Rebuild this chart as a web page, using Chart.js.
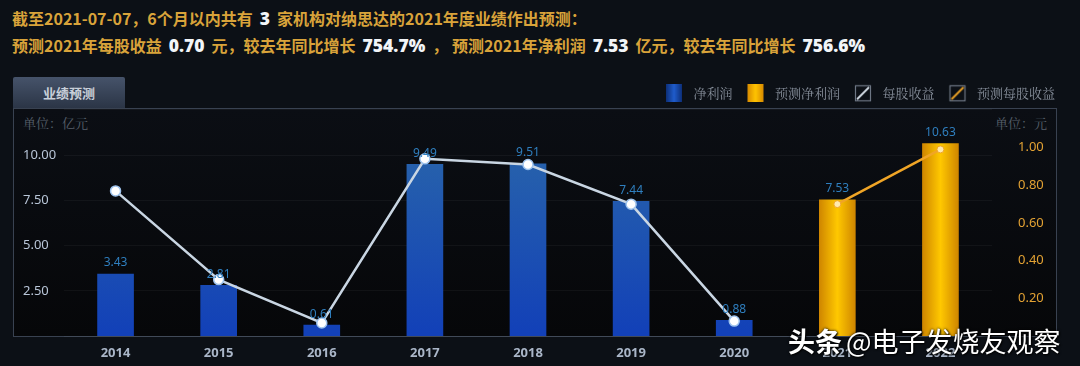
<!DOCTYPE html>
<html>
<head>
<meta charset="utf-8">
<script src="https://cdn.jsdelivr.net/npm/chart.js@4.4.1/dist/chart.umd.min.js"></script>
<style>
  html, body { margin: 0; padding: 0; }
  body { width: 1080px; height: 366px; background: #0c1016; position: relative; overflow: hidden; font-family: "Noto Sans CJK SC", "Noto Sans", sans-serif; }
  #hdr { position: absolute; left: 12px; top: 5px; color: #d9a33a; font-weight: bold; font-size: 16px; line-height: 27px; white-space: nowrap; }
  #hdr b { color: #f2f5f8; font-size: 17.5px; margin: 0 7px; font-family: "Noto Sans", sans-serif; }
  #tab { position: absolute; left: 13px; top: 77px; width: 112px; height: 31px; background: linear-gradient(#46536a, #2b3546); color: #c9d0da; font-size: 13px; font-weight: bold; text-align: center; line-height: 31px; border-radius: 2px 2px 0 0; }
  #frame { position: absolute; left: 13px; top: 108px; width: 1042px; height: 227px; border: 1px solid #394251; background: linear-gradient(#0b0e14, #060709); }
  .unit { position: absolute; top: 113px; color: #58606c; font-size: 13px; font-family: "Noto Serif CJK SC", "Noto Sans CJK SC", serif; }
  #wrap { position: absolute; left: 13px; top: 76px; width: 1063px; height: 294px; }
  #wm { position: absolute; left: 788px; top: 321px; color: #ffffff; font-size: 27px; white-space: nowrap; text-shadow: 0 0 3px #000, 1px 1px 2px #000; }
  #wm b { font-weight: bold; margin-right: 4px; }
</style>
</head>
<body>
<div id="hdr">
  <div>截至2021-07-07，6个月以内共有<b>3</b>家机构对纳思达的2021年度业绩作出预测：</div>
  <div>预测2021年每股收益<b>0.70</b>元，较去年同比增长<b>754.7%</b>， 预测2021年净利润<b>7.53</b>亿元，较去年同比增长<b>756.6%</b></div>
</div>
<div id="tab">业绩预测</div>
<div id="frame"></div>
<div class="unit" style="left:23px">单位：亿元</div>
<div class="unit" style="left:995px">单位：元</div>
<div id="wrap"><canvas id="chart"></canvas></div>
<div id="wm"><b>头条</b>@电子发烧友观察</div>
<script>
const years = ['2014', '2015', '2016', '2017', '2018', '2019', '2020', '2021', '2022'];
const netProfit = [3.43, 2.81, 0.61, 9.49, 9.51, 7.44, 0.88, null, null];
const netProfitForecast = [null, null, null, null, null, null, null, 7.53, 10.63];
const eps = [0.77, 0.30, 0.07, 0.94, 0.91, 0.70, 0.08, null, null];
const epsForecast = [null, null, null, null, null, null, null, 0.70, 0.99];
const leftTicks = [2.5, 5, 7.5, 10];
const rightTicks = [0.2, 0.4, 0.6, 0.8, 1.0];

function makeIcon(kind) {
    const c = document.createElement('canvas');
    c.width = 26; c.height = 18;
    const g = c.getContext('2d');
    if (kind === 'blue' || kind === 'gold') {
        const gr = g.createLinearGradient(5, 0, 21, 0);
        if (kind === 'blue') { gr.addColorStop(0, '#0d2f78'); gr.addColorStop(0.5, '#1f5ccc'); gr.addColorStop(1, '#0d2f78'); }
        else { gr.addColorStop(0, '#d78a00'); gr.addColorStop(0.5, '#ffc400'); gr.addColorStop(1, '#d78a00'); }
        g.fillStyle = gr;
        g.fillRect(5, 0, 16, 18);
    } else {
        g.strokeStyle = '#6d7684'; g.lineWidth = 1.2;
        g.strokeRect(5.5, 1.5, 15, 15);
        g.strokeStyle = kind === 'line' ? '#d8e0ea' : '#f0a526';
        g.lineWidth = 1.8;
        g.beginPath(); g.moveTo(7, 15); g.lineTo(19, 3); g.stroke();
    }
    return c;
}
const icons = [makeIcon('blue'), makeIcon('gold'), makeIcon('line'), makeIcon('goldline')];

function blueFill(ctx) {
    const ca = ctx.chart.chartArea;
    if (!ca) return '#1c50b0';
    const gr = ctx.chart.ctx.createLinearGradient(0, ca.top, 0, ca.bottom);
    gr.addColorStop(0, '#2c6aa8');
    gr.addColorStop(1, '#1240b8');
    return gr;
}
function goldFill(ctx) {
    const ca = ctx.chart.chartArea;
    if (!ca) return '#f0b000';
    const x = ctx.chart.scales.x.getPixelForValue(ctx.dataIndex);
    const gr = ctx.chart.ctx.createLinearGradient(x - 18, 0, x + 18, 0);
    gr.addColorStop(0, '#cf8600');
    gr.addColorStop(0.5, '#ffc800');
    gr.addColorStop(1, '#cf8600');
    return gr;
}

const barLabels = {
    id: 'barLabels',
    afterDatasetsDraw(chart) {
        const ctx = chart.ctx;
        ctx.save();
        ctx.font = '12px "Noto Sans", sans-serif';
        ctx.fillStyle = '#2f7fbf';
        ctx.textAlign = 'center';
        ctx.textBaseline = 'bottom';
        [0, 1].forEach(i => {
            const meta = chart.getDatasetMeta(i);
            meta.data.forEach((el, j) => {
                const v = chart.data.datasets[i].data[j];
                if (v == null) return;
                ctx.fillText(v.toFixed(2), el.x, el.y - 5);
            });
        });
        ctx.restore();
    }
};

new Chart(document.getElementById('chart'), {
    data: {
        labels: years,
        datasets: [
            { type: 'bar', label: '净利润', data: netProfit, yAxisID: 'y', backgroundColor: blueFill, barThickness: 36, grouped: false, order: 2 },
            { type: 'bar', label: '预测净利润', data: netProfitForecast, yAxisID: 'y', backgroundColor: goldFill, barThickness: 36, grouped: false, order: 2 },
            { type: 'line', label: '每股收益', data: eps, yAxisID: 'y1', borderColor: '#c9d6e3', borderWidth: 2.5, tension: 0,
              pointRadius: 5, pointBackgroundColor: '#ffffff', pointBorderColor: '#9fc4ee', pointBorderWidth: 1.5, order: 1 },
            { type: 'line', label: '预测每股收益', data: epsForecast, yAxisID: 'y1', borderColor: '#f0a526', borderWidth: 2.5, tension: 0,
              pointRadius: 3.5, pointBackgroundColor: '#ffeab0', pointBorderColor: '#f0a526', pointBorderWidth: 1, order: 1 }
        ]
    },
    options: {
        responsive: true,
        maintainAspectRatio: false,
        animation: false,
        layout: { padding: { left: 10, right: 11, top: 0, bottom: 0 } },
        plugins: {
            tooltip: { enabled: false },
            legend: {
                position: 'top',
                align: 'end',
                labels: {
                    usePointStyle: true,
                    pointStyleWidth: 26,
                    boxHeight: 13,
                    padding: 10,
                    color: '#88909c',
                    font: { size: 13, family: '"Noto Serif CJK SC", "Noto Sans CJK SC", serif' },
                    sort: (a, b) => a.datasetIndex - b.datasetIndex,
                    generateLabels(chart) {
                        const items = Chart.defaults.plugins.legend.labels.generateLabels(chart);
                        items.forEach(it => { it.pointStyle = icons[it.datasetIndex]; it.lineWidth = 0; });
                        return items;
                    }
                }
            }
        },
        scales: {
            x: {
                grid: { display: false, drawTicks: false },
                border: { display: false },
                ticks: { color: '#aab6c8', padding: 9, font: { size: 13, weight: 'bold', family: '"Noto Sans", sans-serif' } },
                afterFit(s) { s.height = 30; }
            },
            y: {
                position: 'left',
                min: 0, max: 12.5,
                grid: { color: 'rgba(255,255,255,0.045)', drawTicks: false },
                border: { display: false },
                afterBuildTicks(s) { s.ticks = [0].concat(leftTicks, [12.5]).map(v => ({ value: v })); },
                ticks: {
                    crossAlign: 'far', padding: 0, color: '#b9c6d8',
                    font: { size: 13, family: '"Noto Sans", sans-serif' },
                    callback: v => leftTicks.includes(v) ? v.toFixed(2) : ''
                },
                afterFit(s) { s.width = 41; }
            },
            y1: {
                position: 'right',
                min: 0, max: 1.2,
                grid: { display: false, drawTicks: false },
                border: { display: false },
                afterBuildTicks(s) { s.ticks = [0].concat(rightTicks, [1.2]).map(v => ({ value: v })); },
                ticks: {
                    crossAlign: 'near', padding: 26, color: '#e3a233',
                    font: { size: 13, family: '"Noto Sans", sans-serif' },
                    callback: v => rightTicks.some(t => Math.abs(t - v) < 1e-6) ? v.toFixed(2) : ''
                },
                afterFit(s) { s.width = 73; }
            }
        }
    },
    plugins: [barLabels]
});
</script>
</body>
</html>
